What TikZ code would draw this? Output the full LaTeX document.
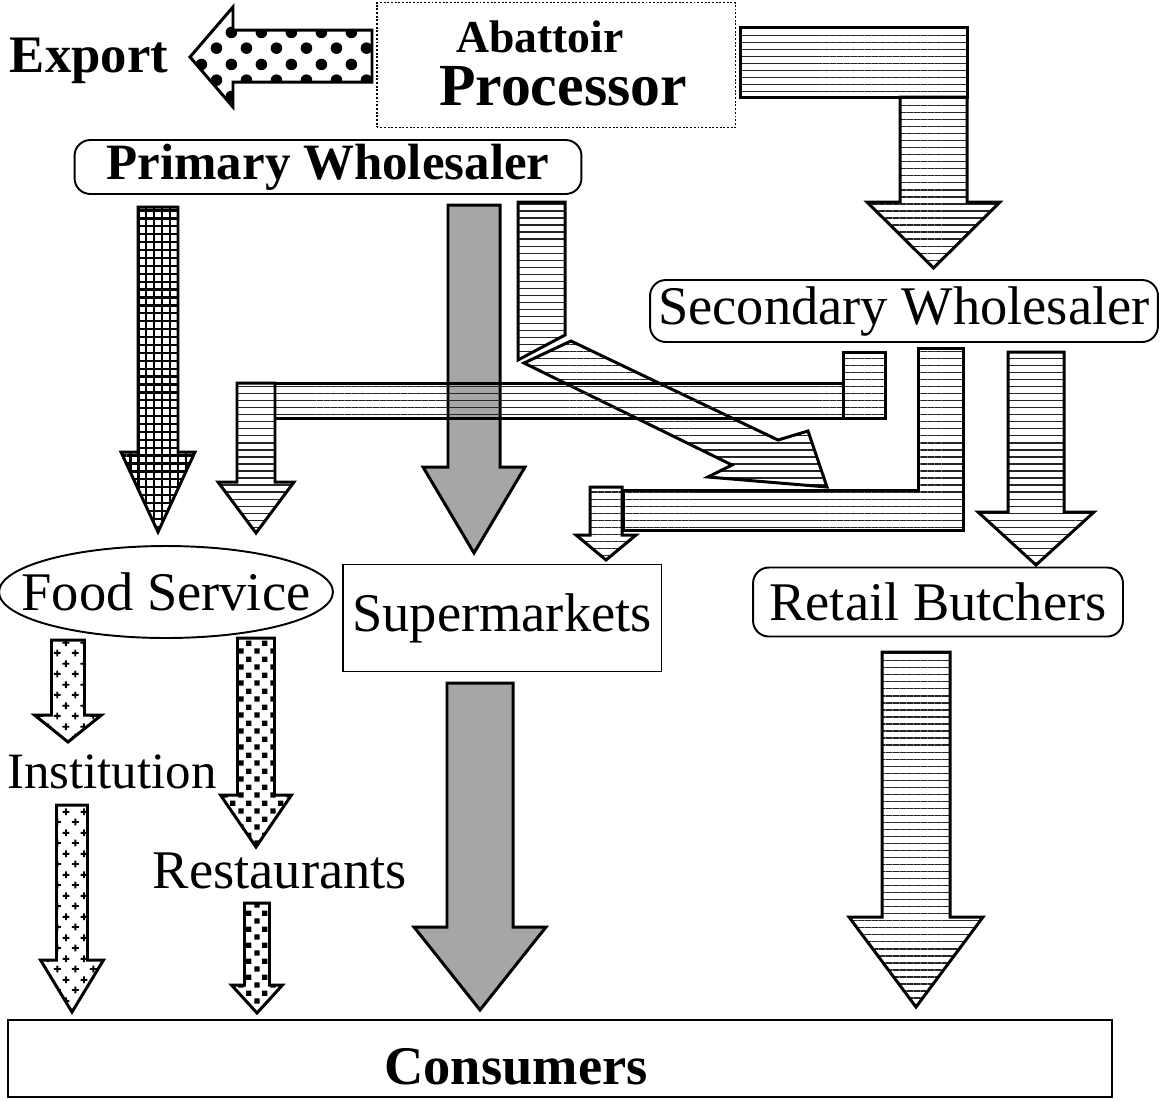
\documentclass[tikz,border=0pt]{standalone}
\usepackage{fontspec}
\setmainfont{Liberation Serif}
\usetikzlibrary{patterns,shapes.geometric}

% fill patterns for the flow arrows
\pgfdeclarepatternformonly{bigdots}{\pgfqpoint{0pt}{0pt}}{\pgfqpoint{17pt}{18pt}}{\pgfqpoint{17pt}{18pt}}{%
  \pgfpathcircle{\pgfqpoint{4.25pt}{4.5pt}}{3.3pt}%
  \pgfpathcircle{\pgfqpoint{12.75pt}{13.5pt}}{3.3pt}%
  \pgfusepath{fill}}
\pgfdeclarepatternformonly{finegrid}{\pgfqpoint{-0.1pt}{-0.1pt}}{\pgfqpoint{4.6pt}{4.6pt}}{\pgfqpoint{4.5pt}{4.5pt}}{%
  \pgfsetlinewidth{1.3pt}%
  \pgfpathmoveto{\pgfqpoint{0pt}{2.25pt}}\pgfpathlineto{\pgfqpoint{4.5pt}{2.25pt}}%
  \pgfpathmoveto{\pgfqpoint{2.25pt}{0pt}}\pgfpathlineto{\pgfqpoint{2.25pt}{4.5pt}}%
  \pgfusepath{stroke}}
\pgfdeclarepatternformonly{hstripes}{\pgfqpoint{0pt}{-0.5pt}}{\pgfqpoint{4pt}{4.5pt}}{\pgfqpoint{4pt}{4pt}}{%
  \pgfsetlinewidth{0.7pt}%
  \pgfpathmoveto{\pgfqpoint{0pt}{2pt}}\pgfpathlineto{\pgfqpoint{4pt}{2pt}}%
  \pgfusepath{stroke}}
\pgfdeclarepatternformonly{plusses}{\pgfqpoint{0pt}{0pt}}{\pgfqpoint{10pt}{12pt}}{\pgfqpoint{10pt}{12pt}}{%
  \pgfsetlinewidth{1.1pt}%
  \pgfpathmoveto{\pgfqpoint{0.5pt}{3pt}}\pgfpathlineto{\pgfqpoint{4.5pt}{3pt}}%
  \pgfpathmoveto{\pgfqpoint{2.5pt}{1pt}}\pgfpathlineto{\pgfqpoint{2.5pt}{5pt}}%
  \pgfpathmoveto{\pgfqpoint{5.5pt}{9pt}}\pgfpathlineto{\pgfqpoint{9.5pt}{9pt}}%
  \pgfpathmoveto{\pgfqpoint{7.5pt}{7pt}}\pgfpathlineto{\pgfqpoint{7.5pt}{11pt}}%
  \pgfusepath{stroke}}
\pgfdeclarepatternformonly{sqdots}{\pgfqpoint{0pt}{0pt}}{\pgfqpoint{9pt}{9pt}}{\pgfqpoint{9pt}{9pt}}{%
  \pgfpathrectangle{\pgfqpoint{0.75pt}{0.75pt}}{\pgfqpoint{3pt}{3pt}}%
  \pgfpathrectangle{\pgfqpoint{5.25pt}{5.25pt}}{\pgfqpoint{3pt}{3pt}}%
  \pgfusepath{fill}}

\tikzset{
  stagebox/.style={draw=black, line width=1.1pt, inner sep=2pt, font=\stagefont},
  roundbox/.style={stagebox, rounded corners=9pt},
  procbox/.style={draw=black, densely dotted, line width=1.1pt},
  flowarr/.style={draw=black, line width=1.7pt, line join=miter},
  ballfill/.style={pattern=bigdots},
  gridfill/.style={pattern=finegrid},
  stripefill/.style={pattern=hstripes, pattern color=black!85},
  plusfill/.style={pattern=plusses},
  checkfill/.style={pattern=sqdots},
  grayfill/.style={fill=black!35},
}
\newcommand{\stagefont}{\fontsize{31}{36}\selectfont}
\newcommand{\boldsize}[1]{\fontsize{#1}{#1}\selectfont\bfseries}
% down block arrow: style, x centre, shaft top, head start, tip, shaft half width, head half width
\newcommand{\blockdown}[7]{%
  \draw[flowarr,#1] (#2-#6,#3) -- (#2+#6,#3) -- (#2+#6,#4) -- (#2+#7,#4)
    -- (#2,#5) -- (#2-#7,#4) -- (#2-#6,#4) -- cycle;}

\begin{document}
\begin{tikzpicture}[x=0.02cm, y=-0.02cm]
  \useasboundingbox (0,0) rectangle (1166,1100);
  \clip (0,0) rectangle (1166,1100);

  % processor and export
  \node[procbox, minimum width=7.18cm, minimum height=2.5cm] (proc) at (556,65) {};
  \node[font=\boldsize{26}, anchor=base] (abat) at (540,52) {Abattoir};
  \node[font=\boldsize{34}, anchor=base] (procT) at (563,105) {Processor};
  \node[font=\boldsize{30}, anchor=base] (export) at (89,72) {Export};
  \draw[flowarr, ballfill] (372,30) -- (233,30) -- (233,7) -- (190,57)
    -- (233,107) -- (233,82) -- (372,82) -- cycle;

  % processor to secondary wholesaler
  \draw[flowarr, stripefill] (740,27) rectangle (967,97);
  \blockdown{stripefill}{933.5}{97}{202}{268}{33.5}{66.5}

  % wholesalers
  \node[roundbox, font=\boldsize{29}, minimum width=10.14cm, minimum height=1.08cm] (prim) at (328,167) {Primary Wholesaler};
  \node[roundbox, minimum width=10.16cm, minimum height=1.24cm] (sec) at (904,311) {Secondary Wholesaler};

  % primary wholesaler outputs
  \blockdown{gridfill}{158}{207}{452}{532}{20}{37}
  \blockdown{grayfill}{474}{205}{467}{553}{26}{51}
  \draw[flowarr, stripefill] (518,202) -- (565,202) -- (565,335) -- (518,360) -- cycle;
  \draw[flowarr, stripefill] (524,363) -- (571,341) -- (778,440) -- (808,431)
    -- (827,487) -- (708,477) -- (732,465) -- cycle;

  % secondary wholesaler outputs
  \draw[flowarr, stripefill] (275,383) rectangle (843,418);
  \draw[flowarr, stripefill] (843,352) rectangle (885,418);
  \blockdown{stripefill}{256}{383}{482}{533}{19}{38}
  \draw[flowarr, stripefill] (918,348) -- (963,348) -- (963,530) -- (623,530)
    -- (623,490) -- (918,490) -- cycle;
  \blockdown{stripefill}{606}{487}{535}{560}{16}{30}
  \blockdown{stripefill}{1036}{352}{512}{565}{28}{58}

  % retail level
  \node[ellipse, draw=black, line width=1.1pt, font=\stagefont, inner xsep=-0.6cm, inner ysep=0pt,
        minimum width=6.68cm, minimum height=1.84cm] (food) at (166,592) {Food Service};
  \node[stagebox, minimum width=6.38cm, minimum height=2.14cm] (super) at (502,618) {Supermarkets};
  \node[roundbox, minimum width=7.4cm, minimum height=1.38cm] (retail) at (938,602) {Retail Butchers};

  % food service split
  \blockdown{plusfill}{68}{640}{715}{742}{16.5}{33.5}
  \node[font=\fontsize{29}{34}\selectfont, anchor=base west] (inst) at (1,788) {Institution};
  \blockdown{plusfill}{72}{805}{960}{1012}{15.5}{31.5}
  \blockdown{checkfill}{256}{638}{795}{847}{18.5}{35.5}
  \node[font=\stagefont, anchor=base] (rest) at (280,888) {Restaurants};
  \blockdown{checkfill}{257}{903}{985}{1013}{12.5}{25.5}

  % to consumers
  \blockdown{grayfill}{480}{683}{927}{1010}{33}{66}
  \blockdown{stripefill}{916}{652}{917}{1007}{34}{67}
  \node[draw=black, line width=1.2pt, minimum width=22.08cm, minimum height=1.54cm] (cons) at (560,1058.5) {};
  \node[font=\boldsize{31}, anchor=base] (consT) at (516,1084) {Consumers};
\end{tikzpicture}
\end{document}
